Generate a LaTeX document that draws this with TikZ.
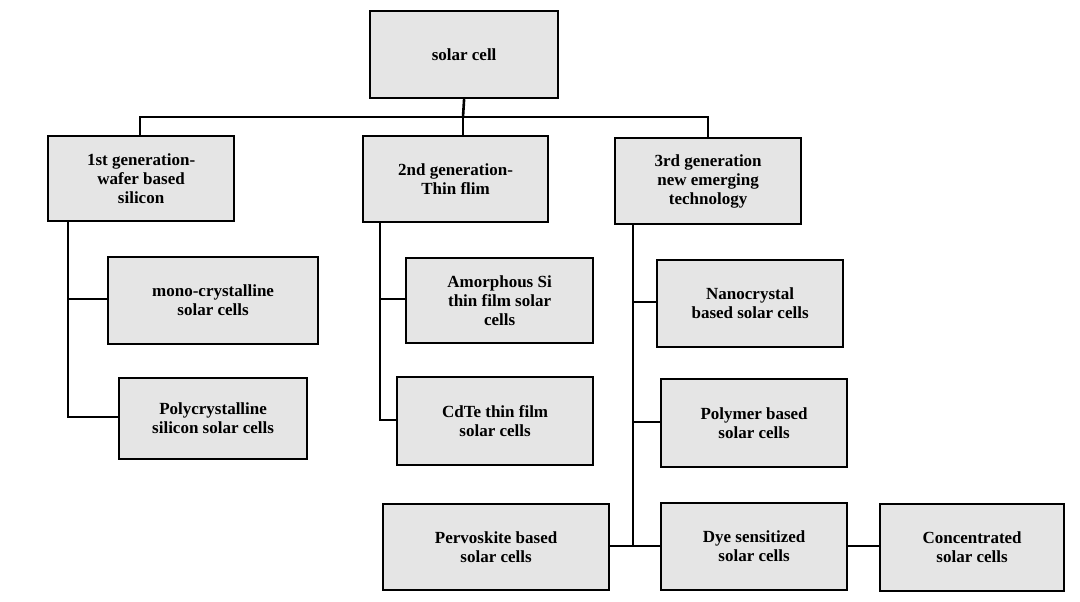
\documentclass[tikz,border=0pt]{standalone}
\usepackage{fontspec}
\setmainfont{Liberation Serif}
\begin{document}
\begin{tikzpicture}[x=1pt,y=-1pt,
 bx/.style={draw=black,line width=2.2pt,fill=black!10,align=center,font=\bfseries\fontsize{17}{19}\selectfont,inner sep=0pt,anchor=north west},
 ln/.style={line width=2.6pt}]
\useasboundingbox (0,0) rectangle (1080,602);
\newcommand{\mybox}[6]{\node[bx,minimum width=#4-#2,minimum height=#5-#3] (#1) at (#2,#3) {#6};}
\mybox{sc}{369}{10}{557}{97}{solar cell}
\mybox{g1}{47}{135}{233}{220}{1st generation-\\wafer based\\silicon}
\mybox{g2}{362}{135}{547}{221}{2nd generation-\\Thin flim}
\mybox{g3}{614}{137}{800}{223}{3rd generation\\new emerging\\technology}
\mybox{mono}{107}{256}{317}{343}{mono-crystalline\\solar cells}
\mybox{poly}{118}{377}{306}{458}{Polycrystalline\\silicon solar cells}
\mybox{am}{405}{257}{592}{342}{Amorphous Si\\thin film solar\\cells}
\mybox{cd}{396}{376}{592}{464}{CdTe thin film\\solar cells}
\mybox{nano}{656}{259}{842}{346}{Nanocrystal\\based solar cells}
\mybox{pm}{660}{378}{846}{466}{Polymer based\\solar cells}
\mybox{pv}{382}{503}{608}{589}{Pervoskite based\\solar cells}
\mybox{dye}{660}{502}{846}{589}{Dye sensitized\\solar cells}
\mybox{con}{879}{503}{1063}{590}{Concentrated\\solar cells}
\coordinate (j) at (463,117);
\draw[ln] (sc.south) -- (j);
\draw[ln] (g1.north -| 140,0) -- (140,117) -- (708,117) -- (g3.north -| 708,0);
\draw[ln] (j) -- (j |- g2.north);
\draw[ln] (68,220) -- (68,417) -- (poly.west |- 0,417);
\draw[ln] (68,299) -- (mono.west |- 0,299);
\draw[ln] (380,221) -- (380,420) -- (cd.west |- 0,420);
\draw[ln] (380,299) -- (am.west |- 0,299);
\draw[ln] (633,223) -- (633,546);
\draw[ln] (633,302) -- (nano.west |- 0,302);
\draw[ln] (633,422) -- (pm.west |- 0,422);
\draw[ln] (pv.east |- 0,546) -- (dye.west |- 0,546);
\draw[ln] (dye.east |- 0,546) -- (con.west |- 0,546);
\end{tikzpicture}
\end{document}
